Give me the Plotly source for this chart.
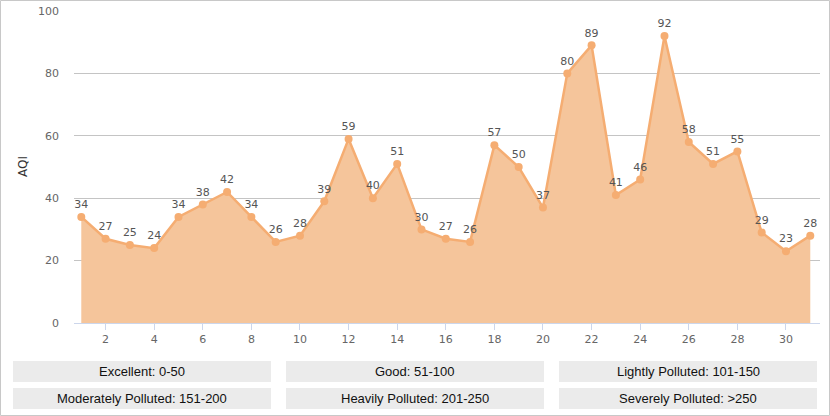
import plotly.graph_objects as go

days = list(range(1, 32))
aqi = [34, 27, 25, 24, 34, 38, 42, 34, 26, 28, 39, 59, 40, 51, 30, 27, 26, 57,
       50, 37, 80, 89, 41, 46, 92, 58, 51, 55, 29, 23, 28]
levels = ["Excellent: 0-50", "Good: 51-100", "Lightly Polluted: 101-150",
          "Moderately Polluted: 151-200", "Heavily Polluted: 201-250",
          "Severely Polluted: >250"]

W, H = 830, 416
L, R, T, B = 74, 10, 11, 93
pw, ph = W - L - R, H - T - B


def px(x):
    return (x - L) / pw


def py(y):
    return (H - B - y) / ph


fig = go.Figure()
fig.add_trace(go.Scatter(
    x=days, y=aqi, mode="lines+markers+text",
    text=[str(v) for v in aqi], textposition="top center",
    textfont=dict(family="DejaVu Sans", size=11, color="#555555"),
    line=dict(color="#f5ad72", width=2.5),
    marker=dict(color="#f5ad72", size=8),
    fill="tozeroy", fillcolor="#f5c59b",
    hoverinfo="x+y", cliponaxis=False,
))

shapes = [dict(type="rect", xref="paper", yref="paper",
               x0=px(0.5), x1=px(829.5), y0=py(415.5), y1=py(0.5),
               line=dict(color="#c8c8c8", width=1), layer="below")]
annotations = [dict(xref="paper", yref="paper", x=px(23), y=py(167),
                    xanchor="center", yanchor="middle", textangle=-90,
                    text="AQI", showarrow=False,
                    font=dict(family="DejaVu Sans", size=12, color="#333333"))]
box_x = [13, 286, 559]
box_y = [361, 388]
for i, lab in enumerate(levels):
    bx = box_x[i % 3]
    by = box_y[i // 3]
    shapes.append(dict(type="rect", xref="paper", yref="paper",
                       x0=px(bx), x1=px(bx + 258), y0=py(by + 21), y1=py(by),
                       fillcolor="#ebebeb", line=dict(width=0)))
    annotations.append(dict(xref="paper", yref="paper", x=px(bx + 129),
                            y=py(by + 10.5), xanchor="center", yanchor="middle",
                            text=lab, showarrow=False,
                            font=dict(family="Liberation Sans", size=13, color="#111111")))

fig.update_layout(
    width=W, height=H, margin=dict(l=L, r=R, t=T, b=B),
    paper_bgcolor="white", plot_bgcolor="white",
    showlegend=False, shapes=shapes, annotations=annotations,
    font=dict(family="DejaVu Sans", size=11, color="#666666"),
)
fig.update_xaxes(range=[0.7, 31.4], tick0=0, dtick=2, showgrid=False,
                 showline=True, linecolor="#ccd6eb", ticks="outside",
                 tickcolor="#ccd6eb", ticklen=6, zeroline=False, automargin=False)
fig.update_yaxes(range=[0, 100], dtick=20, showgrid=True, gridcolor="#c4c4c4",
                 zeroline=False, ticklabelstandoff=14, automargin=False)

fig.write_html("out.html", config={"displayModeBar": False},
               post_script="document.body.style.margin='0px';")
